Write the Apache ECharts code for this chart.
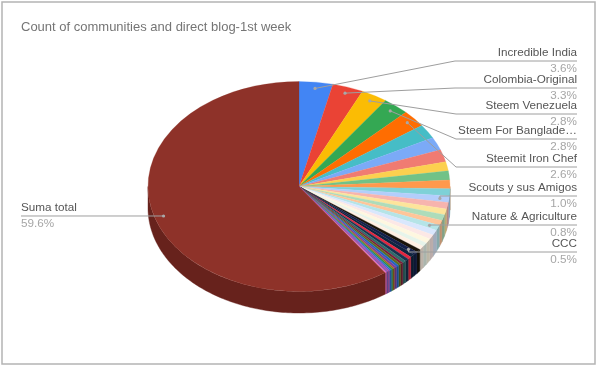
<!DOCTYPE html>
<html><head><meta charset="utf-8">
<style>html,body{margin:0;padding:0;background:#fff}#c{width:598px;height:367px;filter:blur(0.4px)}</style>
<script src="https://cdn.jsdelivr.net/npm/echarts@6/dist/echarts.min.js"></script>
</head><body><div id="c"></div>
<script>
const titleText = 'Count of communities and direct blog-1st week';
const sliceNames = ['Incredible India','Colombia-Original','Steem Venezuela','Steem For Banglade…','Steemit Iron Chef','','','','','','','','Scouts y sus Amigos','','','','','Nature & Agriculture','','','','','','','CCC','','','','','','','','','','','','','','','','','Suma total'];
const sliceValues = [3.6,3.3,2.8,2.8,2.6,2.2,2.0,1.9,1.4,1.4,1.3,1.1,1.0,1.0,0.9,0.9,0.8,0.8,0.8,0.7,0.7,0.6,0.6,0.5,0.5,0.5,0.4,0.4,0.4,0.3,0.3,0.3,0.3,0.2,0.2,0.2,0.2,0.1,0.1,0.1,0.1,59.6];
const sliceColors = ['#4285F4','#EA4335','#FBBC04','#34A853','#FF6D01','#46BDC6','#7BAAF7','#F07B72','#FCD04F','#71C287','#FF994D','#7ED1D7','#B3CEFB','#F7B4AE','#FDE49B','#AEDCBA','#FFC599','#B5E4E7','#D9E7FD','#FCE8E6','#FEF7E0','#E6F4EA','#FFF0E3','#1a1408','#14204a','#0f2440','#e3263f','#1a3350','#2f6b6b','#7a1f3a','#5f6b1f','#2166c0','#7b3fa0','#a8651a','#2a8f4a','#2f6fd0','#8a4fbf','#c0407a','#5050c0','#d04fa8','#e86fc0','#8E3229'];
// layout of the callouts (row y and bend x), separate from the data
const calloutRows = {0:[61,455],1:[88,455],2:[114,456],3:[139,456],4:[167,456],12:[196,0],17:[225,0],24:[252,0]};

const cx=299, cy=186.5, rx=151, ry=105, depth=21.5, dotR=0.94, labelRight=577;
const total = sliceValues.reduce((a,b)=>a+b,0);
const starts=[]; { let c=0; for(const v of sliceValues){starts.push(c); c+=v;} }
const fr = i => [starts[i]/total, (starts[i]+sliceValues[i])/total];
const pt = (f,k=1)=>{const t=f*2*Math.PI; return [cx+rx*k*Math.sin(t), cy-ry*k*Math.cos(t)];};
function shade(hex,k){const n=parseInt(hex.slice(1),16);return 'rgb('+[(n>>16)&255,(n>>8)&255,n&255].map(v=>Math.round(v*k)).join(',')+')';}

function renderWall(p){
  const i=p.dataIndex; let [a,b]=fr(i);
  a=Math.max(a,.25); b=Math.min(b,.75);
  if(b<=a) return null;
  const top=[],bot=[]; const n=Math.max(2,Math.ceil((b-a)*360));
  for(let j=0;j<=n;j++){const q=pt(a+(b-a)*j/n); top.push(q); bot.unshift([q[0],q[1]+depth]);}
  const col=i===sliceValues.length-1?'#67221C':shade(sliceColors[i],0.74);
  return {type:'polygon',shape:{points:top.concat(bot)},style:{fill:col,stroke:col,lineWidth:0.4}};
}
function renderTop(p){
  const i=p.dataIndex; const [a,b]=fr(i); const s=-Math.PI/2;
  return {type:'sector',x:cx,y:cy,scaleY:ry/rx,
    shape:{cx:0,cy:0,r:rx,r0:0,startAngle:s+a*2*Math.PI,endAngle:s+b*2*Math.PI,clockwise:true},
    style:{fill:sliceColors[i],stroke:sliceColors[i],lineWidth:0.3}};
}
function renderCallout(p){
  const i=p.dataIndex; const name=sliceNames[i];
  if(!name) return null;
  const [a,b]=fr(i); const d=pt((a+b)/2,dotR);
  const pct=(sliceValues[i]).toFixed(1)+'%';
  const kids=[]; const line={stroke:'#9e9e9e',lineWidth:1,fill:null};
  let tx,ly,align;
  if(calloutRows[i]){
    const [y,bend]=calloutRows[i]; ly=y; tx=labelRight; align='right';
    const pts=bend?[d,[bend,y],[labelRight,y]]:[d,[d[0],y],[labelRight,y]];
    kids.push({type:'polyline',shape:{points:pts},style:line});
  } else {
    ly=d[1]; tx=21; align='left';
    kids.push({type:'polyline',shape:{points:[[21,ly],d]},style:line});
  }
  kids.push({type:'circle',shape:{cx:d[0],cy:d[1],r:1.6},style:{fill:'#a8a8a8'}});
  kids.push({type:'text',x:tx,y:ly-2,style:{text:name,align:align,verticalAlign:'bottom',fill:'#555555',font:'11.7px "Liberation Sans"'}});
  kids.push({type:'text',x:tx,y:ly+2,style:{text:pct,align:align,verticalAlign:'top',fill:'#a6a6a6',font:'11.7px "Liberation Sans"'}});
  return {type:'group',children:kids};
}
const chart=echarts.init(document.getElementById('c'),null,{renderer:'canvas'});
const mk=(fn,z)=>({type:'custom',coordinateSystem:'none',renderItem:fn,data:sliceValues.map((v,i)=>({name:sliceNames[i],value:v})),z,silent:true,clip:false});
chart.setOption({
  animation:false, backgroundColor:'#fff',
  title:{text:titleText,left:16,top:16,textStyle:{color:'#757575',fontSize:13,fontWeight:'normal',fontFamily:'Liberation Sans'}},
  graphic:[{type:'rect',shape:{x:2,y:2,width:593,height:362},style:{fill:null,stroke:'#b4b4b4',lineWidth:1.5},z:100}],
  series:[mk(renderWall,2),mk(renderTop,3),mk(renderCallout,4)]
});
</script></body></html>
